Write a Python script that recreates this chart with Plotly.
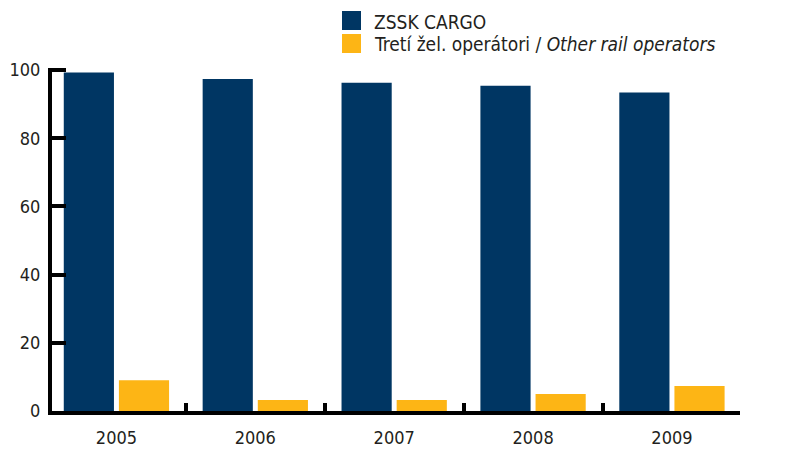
import plotly.graph_objects as go

years = ["2005", "2006", "2007", "2008", "2009"]
zssk_cargo = [99.3, 97.4, 96.3, 95.4, 93.4]
other_operators = [9.0, 3.2, 3.2, 5.0, 7.3]
series_names = ["ZSSK CARGO", "Tretí žel. operátori / <i>Other rail operators</i>"]
y_ticks = [0, 20, 40, 60, 80, 100]

NAVY = "#003663"
YELLOW = "#FDB515"
INK = "black"
TEXT = "#231F20"
FONT = "Liberation Sans Narrow, DejaVu Sans Condensed, Arial Narrow, sans-serif"

# the page body has an 8px margin: lay out in page pixels, then shift by 8
OFF = 8
W, H = 789 - 2 * OFF, 472 - 2 * OFF
L, R, T, B = 52 - OFF, 740 - OFF, 68 - OFF, 411 - OFF
Y_TOP = 100.6

fig = go.Figure()
fig.add_trace(go.Bar(x=years, y=zssk_cargo, name=series_names[0], marker_color=NAVY,
                     marker_line_width=0, showlegend=False))
fig.add_trace(go.Bar(x=years, y=other_operators, name=series_names[1], marker_color=YELLOW,
                     marker_line_width=0, showlegend=False))

def px(x):
    return (x - OFF - L) / (R - L)

def py(y):
    return (B - (y - OFF)) / (B - T)

shapes = []
annotations = []
rows = [(11, 30, NAVY, series_names[0]), (34, 53, YELLOW, series_names[1])]
for y0, y1, col, name in rows:
    shapes.append(dict(type="rect", xref="paper", yref="paper",
                       x0=px(342), x1=px(361), y0=py(y1), y1=py(y0),
                       fillcolor=col, line_width=0))
    annotations.append(dict(xref="paper", yref="paper", x=px(372), y=py((y0 + y1) / 2 + 1),
                            xanchor="left", yanchor="middle", showarrow=False,
                            text=name, font=dict(family=FONT, size=19, color=TEXT)))

fig.update_layout(
    width=W, height=H,
    margin=dict(l=L, r=W - R, t=T, b=H - B, pad=0, autoexpand=False),
    paper_bgcolor="white", plot_bgcolor="white",
    barmode="group", bargap=0.206, bargroupgap=0.09,
    font=dict(family=FONT, size=18, color=TEXT),
    shapes=shapes, annotations=annotations,
    xaxis=dict(range=[-0.5 + 5 / 138.5, 4.49], showgrid=False, zeroline=False,
               showline=True, linecolor=INK, linewidth=4,
               ticks="inside", tickson="boundaries", ticklen=8, tickwidth=4, tickcolor=INK,
               ticklabelstandoff=7),
    yaxis=dict(range=[0, Y_TOP], tickvals=y_ticks, showgrid=False, zeroline=False,
               showline=True, linecolor=INK, linewidth=4,
               ticks="inside", ticklen=14, tickwidth=4, tickcolor=INK,
               ticklabelstandoff=4),
)

fig.write_html("out.html")
